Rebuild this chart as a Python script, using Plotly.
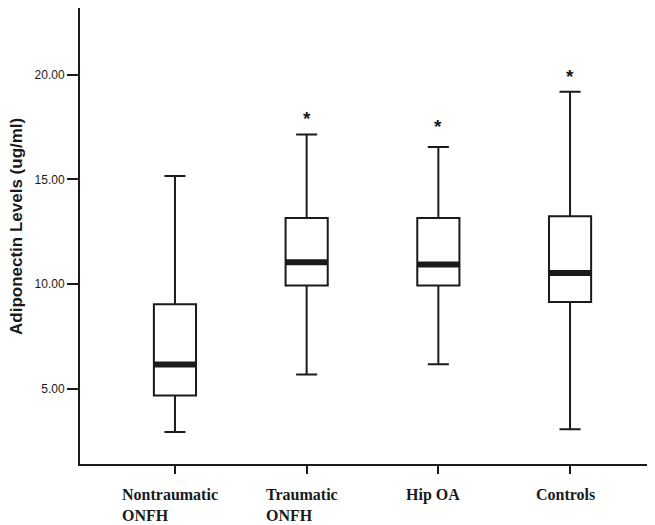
import plotly.graph_objects as go

categories = ["Nontraumatic<br>ONFH", "Traumatic<br>ONFH", "Hip OA", "Controls"]
lower = [2.92, 5.67, 6.16, 3.05]
q1 = [4.67, 9.93, 9.93, 9.14]
median = [6.15, 11.04, 10.93, 10.53]
q3 = [9.03, 13.16, 13.16, 13.24]
upper = [15.17, 17.15, 16.55, 19.19]
significant = [False, True, True, True]
y_ticks = [5, 10, 15, 20]

xs = list(range(len(categories)))
box_w = 0.32
line_col = "#1a1a1a"

fig = go.Figure()
fig.add_trace(go.Box(
    x=xs, q1=q1, median=median, q3=q3, lowerfence=lower, upperfence=upper,
    width=box_w, whiskerwidth=0.5,
    line=dict(color=line_col, width=2), fillcolor="white",
    boxpoints=False, showlegend=False, hoverinfo="skip",
))
# thick median bars
for i, m in zip(xs, median):
    fig.add_trace(go.Scatter(
        x=[i - box_w / 2, i + box_w / 2], y=[m, m], mode="lines",
        line=dict(color=line_col, width=6), showlegend=False, hoverinfo="skip",
    ))

annotations = []
for i, (sig, up) in enumerate(zip(significant, upper)):
    if sig:
        annotations.append(dict(
            x=i, y=up, xref="x", yref="y", text="<b>*</b>", showarrow=False,
            yanchor="bottom", yshift=3 if i != 2 else 8,
            font=dict(family="Liberation Sans", size=19, color=line_col),
        ))
for i, lab in enumerate(categories):
    annotations.append(dict(
        x=i, y=0, xref="x", yref="paper", text="<b>" + lab + "</b>", showarrow=False,
        xanchor="center", yanchor="top", align="left", xshift=-5, yshift=-20,
        font=dict(family="Liberation Serif", size=16, color=line_col),
    ))
annotations.append(dict(
    x=0, y=0.5, xref="paper", yref="paper", xanchor="center", yanchor="middle",
    xshift=-64, yshift=9, text="<b>Adiponectin Levels (ug/ml)</b>", textangle=-90,
    showarrow=False, font=dict(family="Liberation Sans", size=17, color=line_col),
))

fig.update_layout(
    width=647, height=517,
    margin=dict(l=72, r=0, t=0, b=61),
    paper_bgcolor="white", plot_bgcolor="white",
    annotations=annotations,
    xaxis=dict(
        range=[-0.721, 3.645], tickvals=xs, ticktext=[""] * len(xs),
        showline=True, linecolor=line_col, linewidth=2,
        ticks="outside", ticklen=8, tickwidth=2, tickcolor=line_col,
        showgrid=False, zeroline=False, fixedrange=True,
    ),
    yaxis=dict(
        range=[1.39, 23.2], tickvals=y_ticks, tickformat=".2f",
        showline=True, linecolor=line_col, linewidth=2,
        ticks="outside", ticklen=11, tickwidth=2, tickcolor=line_col,
        tickfont=dict(family="Liberation Sans", size=12, color=line_col),
        showgrid=False, zeroline=False, fixedrange=True,
    ),
)

fig.write_html("out.html")
